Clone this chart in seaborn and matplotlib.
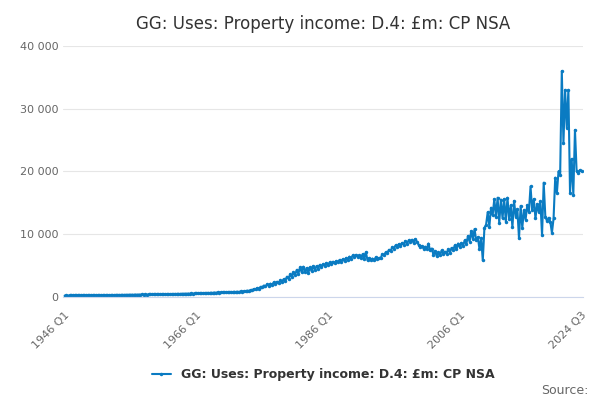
import pandas as pd
import matplotlib.pyplot as plt
import seaborn as sns

series_name = 'GG: Uses: Property income: D.4: £m: CP NSA'

# quarterly values, 1946 Q1 .. 2024 Q3 (£m)
values = [
    200, 210, 200, 220,  210, 220, 210, 230,  220, 230, 220, 240,  230, 240, 230, 250,   # 1946-49
    240, 250, 240, 260,  250, 260, 250, 270,  260, 270, 260, 280,  270, 290, 270, 300,   # 1950-53
    290, 300, 290, 310,  300, 320, 300, 330,  320, 340, 320, 350,  340, 360, 340, 370,   # 1954-57
    350, 380, 360, 390,  370, 390, 370, 400,  390, 410, 390, 420,  400, 430, 410, 440,   # 1958-61
    420, 450, 430, 460,  450, 470, 450, 490,  470, 500, 480, 520,  500, 530, 510, 550,   # 1962-65
    530, 570, 540, 590,  570, 610, 580, 630,  600, 650, 620, 680,  650, 700, 660, 720,   # 1966-69
    700, 740, 700, 760,  740, 780, 730, 800,  760, 810, 770, 850,  820, 900, 860, 980,   # 1970-73
    950, 1100, 1050, 1250,  1200, 1400, 1300, 1600,  1500, 1800, 1650, 2000,  1800, 2100, 1900, 2300,  # 1974-77
    2100, 2400, 2200, 2600,  2400, 2800, 2500, 3200,  2900, 3600, 3100, 3900,  3500, 4300, 3700, 4700,  # 1978-81
    3900, 4800, 4000, 4600,  3800, 4700, 4100, 4900,  4300, 4900, 4500, 5100,  4700, 5200, 4900, 5400,  # 1982-85
    5100, 5500, 5200, 5600,  5400, 5700, 5500, 5900,  5600, 6000, 5700, 6200,  5900, 6400, 6100, 6600,  # 1986-89
    6300, 6700, 6400, 6600,  6200, 6800, 6000, 7100,  5800, 6200, 5900, 6100,  5800, 6300, 6000, 6200,  # 1990-93
    6200, 6800, 6600, 7100,  7000, 7500, 7300, 7900,  7700, 8200, 7900, 8400,  8100, 8600, 8300, 8900,  # 1994-97
    8500, 9000, 8700, 9100,  8600, 9200, 8800, 8300,  7900, 8100, 7700, 8000,  7600, 8500, 7400, 7700,  # 1998-01
    6700, 7300, 6500, 7100,  6600, 7400, 6800, 7200,  6900, 7600, 7000, 7800,  7400, 8200, 7600, 8500,  # 2002-05
    7900, 8600, 8100, 9000,  8400, 9700, 8800, 10500,  9200, 10800, 9000, 9500,  7600, 9400, 5800, 11000,  # 2006-09
    11500, 13500, 11200, 14200,  13000, 15600, 12800, 15800,  11800, 15500, 12500, 15600,  12000, 15800, 12400, 14600,  # 2010-13
    11100, 15300, 12800, 14000,  9300, 14500, 11000, 13800,  12300, 14600, 13500, 17600,  13800, 15600, 12500, 14800,  # 2014-17
    13500, 15200, 9800, 18200,  12800, 12100, 12600, 12000,  10200, 12500, 19000, 16500,  20000, 19500, 36000, 24500,  # 2018-21
    33000, 27000, 33000, 16500,  22000, 16300, 26600, 20000,  19800, 20200, 20000,  # 2022-24
]
years = list(range(1946, 2025))
labels = [f'{y} Q{q}' for y in years for q in range(1, 5)][:len(values)]

df = pd.DataFrame({'quarter': range(len(values)), 'label': labels, 'value': values})

sns.set_style('white')
fig, ax = plt.subplots(figsize=(6, 4), dpi=100)
color = '#0a7bc2'
sns.lineplot(data=df, x='quarter', y='value', ax=ax, color=color, linewidth=1.5,
             marker='o', markersize=2.5, markeredgewidth=0, label=series_name)

ax.set_ylim(0, 40000)
ax.set_yticks([0, 10000, 20000, 30000, 40000])
ax.set_yticklabels(['0', '10 000', '20 000', '30 000', '40 000'], color='#666666', fontsize=8)
ax.yaxis.grid(True, color='#e6e6e6', linewidth=0.8)
ax.set_xlim(-1, len(values))
tick_pos = list(range(0, len(values), 20)) + [len(values) - 1]
ax.set_xticks(tick_pos)
lab_idx = {0, 80, 160, 240, len(values) - 1}
ax.set_xticklabels([df['label'][i] if i in lab_idx else '' for i in tick_pos],
                   rotation=45, ha='right', rotation_mode='anchor', color='#666666', fontsize=8)
ax.tick_params(axis='x', length=6, color='#ccd6eb')
ax.tick_params(axis='y', length=0)
for s in ['top', 'right', 'left']:
    ax.spines[s].set_visible(False)
ax.spines['bottom'].set_color('#ccd6eb')
ax.set_xlabel('')
ax.set_ylabel('')

ax.set_title(series_name, fontsize=12, color='#333333', pad=12)
ax.legend(loc='upper center', bbox_to_anchor=(0.5, -0.24), frameon=False,
          prop={'size': 9, 'weight': 'bold'}, labelcolor='#333333', handlelength=1.5)
fig.text(0.98, 0.015, 'Source:', ha='right', fontsize=9, color='#666666')

plt.subplots_adjust(left=0.105, right=0.972, top=0.885, bottom=0.258)
plt.savefig('out.png', dpi=100)
